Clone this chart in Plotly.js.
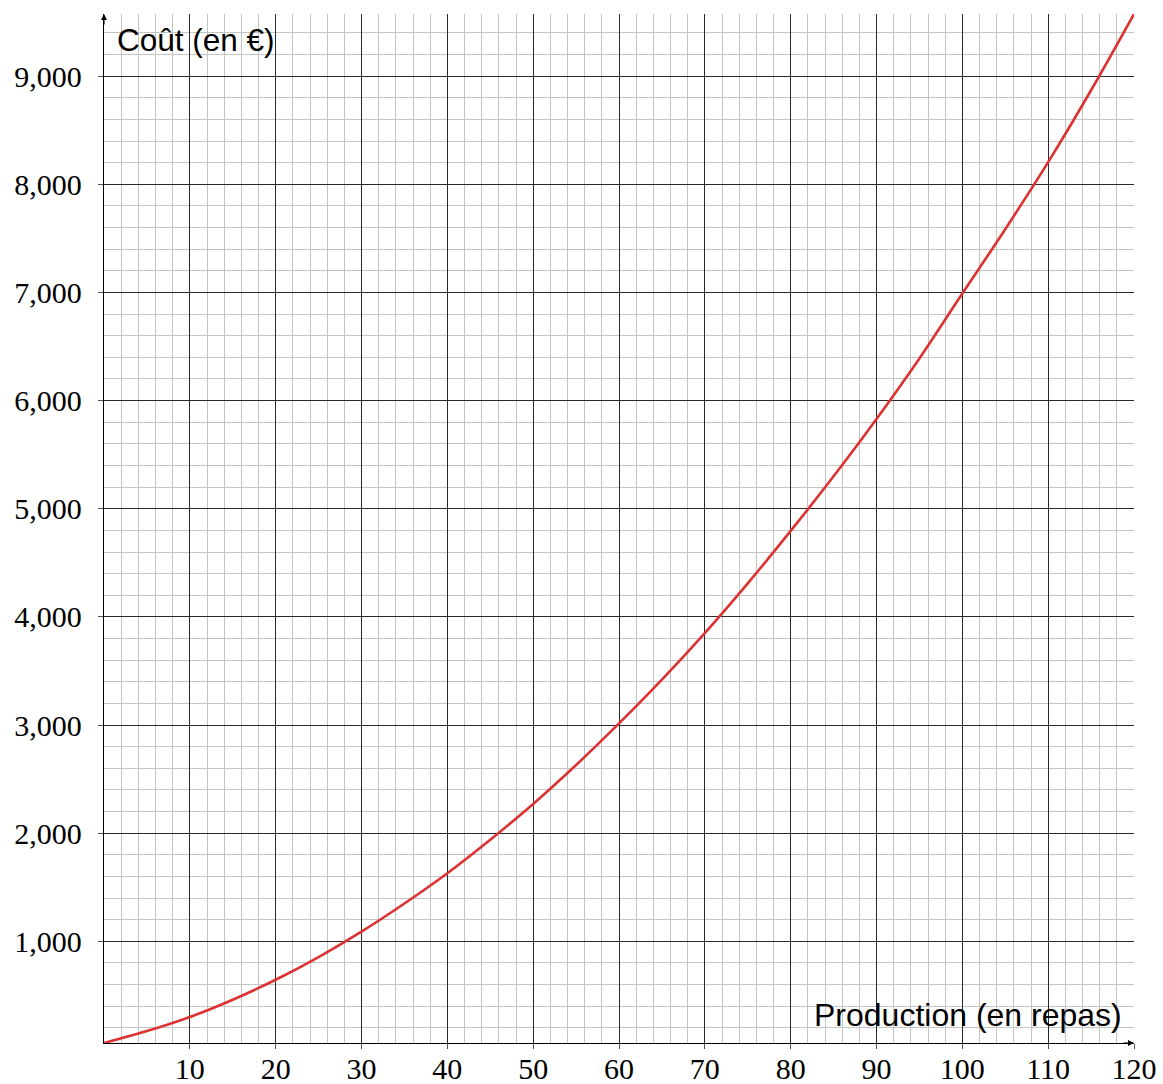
<!DOCTYPE html>
<html>
<head>
<meta charset="utf-8">
<script src="https://cdn.plot.ly/plotly-3.0.1.min.js"></script>
<style>
  html, body { margin: 0; padding: 0; background: #ffffff; }
  #chart { width: 1163px; height: 1084px; }
</style>
</head>
<body>
<div id="chart"></div>
<script>
// Data
const production = [0, 5, 10, 15, 20, 25, 30, 35, 40, 45, 50, 55, 60, 65, 70, 75, 80, 85, 90, 95, 100, 105, 110, 115, 120];
const cout = [60, 170, 300, 460, 645, 855, 1090, 1350, 1630, 1940, 2270, 2630, 3015, 3420, 3850, 4310, 4795, 5300, 5830, 6390, 6990, 7585, 8205, 8870, 9575];

const xTickVals = [10, 20, 30, 40, 50, 60, 70, 80, 90, 100, 110, 120];
const xTickText = ["10", "20", "30", "40", "50", "60", "70", "80", "90", "100", "110", "120"];
const yTickVals = [1000, 2000, 3000, 4000, 5000, 6000, 7000, 8000, 9000];
const yTickText = ["1,000", "2,000", "3,000", "4,000", "5,000", "6,000", "7,000", "8,000", "9,000"];

const xTitle = "Production (en repas)";
const yTitle = "Coût (en €)";

const serif = "Liberation Serif, DejaVu Serif, serif";
const sans = "Liberation Sans, DejaVu Sans, sans-serif";

const trace = {
  x: production,
  y: cout,
  type: "scatter",
  mode: "lines",
  line: { color: "#dd3232", width: 2.6, shape: "spline", smoothing: 1 },
  hoverinfo: "skip",
  cliponaxis: true
};

const majorGrid = "#2a2a2a";
const minorGrid = "#c4c4c4";

const layout = {
  width: 1163,
  height: 1084,
  margin: { l: 104, r: 29, t: 14, b: 41, pad: 0 },
  paper_bgcolor: "#ffffff",
  plot_bgcolor: "#ffffff",
  showlegend: false,
  xaxis: {
    range: [0, 120],
    tickmode: "array",
    tickvals: xTickVals,
    ticktext: xTickText,
    showgrid: true,
    gridcolor: majorGrid,
    gridwidth: 1,
    zeroline: false,
    showline: true,
    linecolor: "#000000",
    linewidth: 1.2,
    ticks: "outside",
    ticklen: 5,
    tickwidth: 1,
    tickcolor: "#555555",
    ticklabelstandoff: -6,
    tickfont: { family: serif, size: 30, color: "#000000" },
    minor: { tickmode: "linear", tick0: 0, dtick: 2, showgrid: true, gridcolor: minorGrid, gridwidth: 1, ticks: "" },
    fixedrange: true,
    layer: "below traces"
  },
  yaxis: {
    range: [60, 9575],
    tickmode: "array",
    tickvals: yTickVals,
    ticktext: yTickText,
    showgrid: true,
    gridcolor: majorGrid,
    gridwidth: 1,
    zeroline: false,
    showline: true,
    linecolor: "#000000",
    linewidth: 1.2,
    ticks: "outside",
    ticklen: 5,
    tickwidth: 1,
    tickcolor: "#555555",
    ticklabelstandoff: 10,
    tickfont: { family: serif, size: 30, color: "#000000" },
    minor: { tickmode: "linear", tick0: 0, dtick: 200, showgrid: true, gridcolor: minorGrid, gridwidth: 1, ticks: "" },
    fixedrange: true,
    layer: "below traces"
  },
  annotations: [
    {
      xref: "paper", yref: "paper",
      x: (115 - 104) / 1030, y: 1 - (40 - 14) / 1029,
      xanchor: "left", yanchor: "middle",
      text: yTitle, showarrow: false,
      font: { family: sans, size: 31.5, color: "#000000" }
    },
    {
      xref: "paper", yref: "paper",
      x: (1124 - 104) / 1030, y: (1043 - 1015) / 1029,
      xanchor: "right", yanchor: "middle",
      text: xTitle, showarrow: false,
      font: { family: sans, size: 32, color: "#000000" }
    },
    {
      xref: "paper", yref: "paper", x: 0, y: 1,
      axref: "pixel", ayref: "pixel", ax: 0, ay: 12,
      text: "", showarrow: true, arrowhead: 2, arrowsize: 1, arrowwidth: 1.2, arrowcolor: "#000000"
    },
    {
      xref: "paper", yref: "paper", x: 1, y: 0,
      axref: "pixel", ayref: "pixel", ax: -12, ay: 0,
      text: "", showarrow: true, arrowhead: 2, arrowsize: 1, arrowwidth: 1.2, arrowcolor: "#000000"
    }
  ]
};

Plotly.newPlot("chart", [trace], layout, { staticPlot: true, displayModeBar: false });
</script>
</body>
</html>
